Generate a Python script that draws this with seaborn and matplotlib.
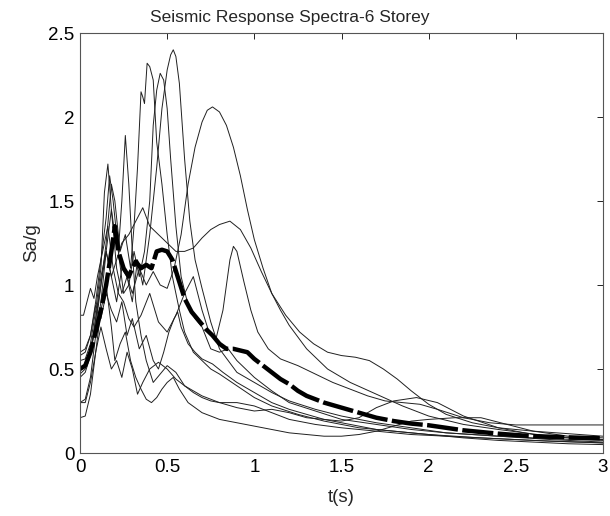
import numpy as np
import pandas as pd
import matplotlib
matplotlib.use("Agg")
import matplotlib.pyplot as plt
import seaborn as sns

# ---------------- data ----------------
t1 = [0, 0.03, 0.06, 0.09, 0.12, 0.15, 0.18, 0.21, 0.24, 0.27, 0.3, 0.33, 0.36, 0.4, 0.44, 0.47, 0.5, 0.52, 0.535, 0.55, 0.57, 0.6, 0.63, 0.66, 0.7, 0.75, 0.8, 0.85, 0.9, 1.0, 1.1, 1.2, 1.35, 1.5, 1.7, 1.9, 2.1, 2.4, 2.7, 3.0]
s1 = [0.5, 0.52, 0.6, 0.75, 1.0, 1.2, 1.45, 1.1, 0.95, 1.05, 0.9, 1.15, 1.0, 1.3, 1.7, 2.05, 2.28, 2.37, 2.4, 2.36, 2.2, 1.75, 1.38, 1.15, 0.98, 0.78, 0.62, 0.55, 0.48, 0.42, 0.36, 0.31, 0.26, 0.22, 0.18, 0.15, 0.12, 0.1, 0.08, 0.065]

t2 = [0, 0.03, 0.06, 0.09, 0.12, 0.15, 0.18, 0.2, 0.23, 0.26, 0.29, 0.31, 0.33, 0.35, 0.36, 0.37, 0.385, 0.4, 0.42, 0.44, 0.47, 0.5, 0.53, 0.57, 0.6, 0.65, 0.7, 0.75, 0.8, 0.9, 1.0, 1.1, 1.25, 1.4, 1.6, 1.8, 2.0, 2.3, 2.6, 3.0]
s2 = [0.45, 0.48, 0.58, 0.8, 1.0, 1.25, 1.6, 1.5, 1.2, 1.3, 1.1, 1.35, 1.7, 2.15, 2.12, 2.08, 2.32, 2.3, 2.22, 1.85, 1.6, 1.3, 1.05, 0.85, 0.72, 0.6, 0.55, 0.5, 0.47, 0.4, 0.33, 0.28, 0.23, 0.19, 0.15, 0.13, 0.11, 0.09, 0.075, 0.06]

t3 = [0, 0.03, 0.06, 0.09, 0.12, 0.15, 0.17, 0.19, 0.22, 0.25, 0.28, 0.31, 0.34, 0.37, 0.4, 0.42, 0.44, 0.46, 0.48, 0.5, 0.52, 0.55, 0.58, 0.62, 0.66, 0.7, 0.75, 0.8, 0.85, 0.9, 1.0, 1.1, 1.2, 1.35, 1.5, 1.7, 1.9, 2.1, 2.4, 2.7, 3.0]
s3 = [0.6, 0.62, 0.7, 0.9, 1.15, 1.4, 1.65, 1.5, 1.2, 0.95, 1.0, 1.2, 1.05, 1.2, 1.5, 1.95, 2.16, 2.26, 2.22, 2.05, 1.75, 1.35, 1.05, 0.88, 0.8, 0.75, 0.62, 0.6, 0.62, 0.55, 0.45, 0.37, 0.3, 0.25, 0.2, 0.17, 0.14, 0.12, 0.1, 0.085, 0.075]

t4 = [0, 0.03, 0.06, 0.09, 0.12, 0.15, 0.18, 0.21, 0.24, 0.27, 0.3, 0.34, 0.38, 0.42, 0.46, 0.5, 0.54, 0.58, 0.62, 0.66, 0.7, 0.73, 0.76, 0.8, 0.84, 0.88, 0.92, 0.96, 1.0, 1.05, 1.1, 1.15, 1.2, 1.3, 1.42, 1.55, 1.7, 1.85, 2.0, 2.2, 2.4, 2.7, 3.0]
s4 = [0.3, 0.32, 0.45, 0.7, 0.9, 1.2, 1.05, 0.9, 1.1, 1.05, 0.95, 1.1, 1.0, 1.08, 1.0, 0.98, 1.1, 1.3, 1.6, 1.82, 1.97, 2.04, 2.06, 2.03, 1.95, 1.82, 1.65, 1.45, 1.27, 1.1, 0.95, 0.85, 0.76, 0.62, 0.5, 0.42, 0.35, 0.28, 0.22, 0.17, 0.14, 0.1, 0.08]

t5 = [0, 0.03, 0.06, 0.09, 0.12, 0.14, 0.16, 0.18, 0.2, 0.22, 0.24, 0.26, 0.28, 0.3, 0.32, 0.35, 0.38, 0.42, 0.46, 0.5, 0.55, 0.6, 0.65, 0.7, 0.75, 0.8, 0.9, 1.0, 1.1, 1.2, 1.35, 1.5, 1.7, 1.9, 2.1, 2.4, 2.7, 3.0]
s5 = [0.55, 0.56, 0.65, 0.85, 1.1, 1.55, 1.72, 1.45, 1.3, 1.2, 1.5, 1.89, 1.6, 1.2, 0.9, 0.7, 0.55, 0.42, 0.47, 0.52, 0.48, 0.4, 0.36, 0.33, 0.31, 0.3, 0.3, 0.28, 0.24, 0.2, 0.17, 0.15, 0.13, 0.11, 0.1, 0.085, 0.07, 0.06]

t6 = [0, 0.03, 0.06, 0.09, 0.12, 0.15, 0.18, 0.21, 0.24, 0.28, 0.32, 0.36, 0.4, 0.45, 0.5, 0.55, 0.6, 0.65, 0.7, 0.75, 0.8, 0.86, 0.92, 0.98, 1.04, 1.1, 1.18, 1.26, 1.34, 1.42, 1.5, 1.58, 1.66, 1.74, 1.82, 1.9, 2.0, 2.1, 2.25, 2.4, 2.6, 2.8, 3.0]
s6 = [0.47, 0.5, 0.6, 0.8, 1.05, 1.2, 1.05, 1.15, 1.25, 1.3, 1.38, 1.46, 1.35, 1.3, 1.25, 1.2, 1.2, 1.22, 1.28, 1.33, 1.36, 1.38, 1.33, 1.22, 1.08, 0.95, 0.82, 0.72, 0.65, 0.6, 0.58, 0.57, 0.55, 0.5, 0.44, 0.37, 0.29, 0.23, 0.18, 0.15, 0.13, 0.115, 0.1]

t7 = [0, 0.02, 0.04, 0.06, 0.08, 0.1, 0.13, 0.16, 0.19, 0.22, 0.25, 0.28, 0.31, 0.35, 0.4, 0.45, 0.5, 0.55, 0.6, 0.65, 0.7, 0.74, 0.78, 0.82, 0.86, 0.88, 0.9, 0.94, 0.98, 1.02, 1.08, 1.15, 1.25, 1.35, 1.45, 1.55, 1.65, 1.75, 1.85, 1.95, 2.05, 2.2, 2.35, 2.5, 2.7, 2.85, 3.0]
s7 = [0.82, 0.82, 0.9, 0.98, 0.92, 1.05, 1.2, 1.35, 1.1, 0.95, 0.9, 0.8, 0.75, 0.82, 0.95, 0.78, 0.72, 0.82, 0.95, 1.05, 0.85, 0.72, 0.68, 0.85, 1.15, 1.23, 1.2, 1.02, 0.85, 0.72, 0.62, 0.56, 0.52, 0.47, 0.42, 0.38, 0.34, 0.31, 0.3, 0.29, 0.26, 0.21, 0.18, 0.167, 0.167, 0.167, 0.167]

t8 = [0, 0.03, 0.06, 0.09, 0.12, 0.15, 0.18, 0.21, 0.24, 0.27, 0.3, 0.33, 0.36, 0.4, 0.45, 0.5, 0.55, 0.6, 0.7, 0.8, 0.9, 1.0, 1.1, 1.2, 1.3, 1.4, 1.5, 1.6, 1.7, 1.8, 1.93, 2.05, 2.2, 2.4, 2.6, 2.8, 3.0]
s8 = [0.3, 0.3, 0.42, 0.6, 0.75, 0.62, 0.5, 0.55, 0.45, 0.6, 0.5, 0.35, 0.42, 0.5, 0.54, 0.5, 0.44, 0.4, 0.34, 0.3, 0.27, 0.25, 0.26, 0.24, 0.21, 0.2, 0.19, 0.21, 0.27, 0.31, 0.33, 0.3, 0.22, 0.15, 0.11, 0.09, 0.08]

t9 = [0, 0.03, 0.06, 0.09, 0.12, 0.15, 0.18, 0.2, 0.23, 0.26, 0.29, 0.32, 0.35, 0.38, 0.41, 0.44, 0.47, 0.5, 0.535, 0.57, 0.62, 0.7, 0.8, 0.9, 1.0, 1.1, 1.2, 1.3, 1.4, 1.5, 1.6, 1.7, 1.8, 1.9, 2.0, 2.15, 2.3, 2.45, 2.6, 2.8, 3.0]
s9 = [0.21, 0.22, 0.35, 0.6, 0.85, 1.0, 0.75, 0.55, 0.65, 0.72, 0.55, 0.45, 0.38, 0.32, 0.3, 0.33, 0.38, 0.42, 0.45, 0.38, 0.3, 0.24, 0.2, 0.18, 0.16, 0.14, 0.12, 0.11, 0.1, 0.1, 0.11, 0.13, 0.16, 0.19, 0.2, 0.21, 0.21, 0.17, 0.13, 0.1, 0.09]

t10 = [0, 0.03, 0.06, 0.09, 0.12, 0.15, 0.18, 0.21, 0.24, 0.27, 0.3, 0.34, 0.38, 0.42, 0.45, 0.48, 0.51, 0.54, 0.56, 0.58, 0.62, 0.66, 0.7, 0.76, 0.82, 0.9, 1.0, 1.1, 1.2, 1.3, 1.4, 1.5, 1.6, 1.7, 1.8, 1.9, 2.0, 2.2, 2.4, 2.6, 2.8, 3.0]
s10 = [0.58, 0.6, 0.7, 0.88, 0.8, 0.95, 0.85, 0.78, 0.9, 0.7, 0.8, 0.62, 0.7, 0.55, 0.5, 0.6, 0.72, 0.8, 0.84, 0.75, 0.65, 0.6, 0.56, 0.53, 0.48, 0.42, 0.36, 0.3, 0.26, 0.23, 0.2, 0.18, 0.16, 0.14, 0.13, 0.12, 0.11, 0.09, 0.075, 0.065, 0.055, 0.05]

t_mean = [0, 0.03, 0.06, 0.09, 0.12, 0.15, 0.18, 0.2, 0.22, 0.25, 0.28, 0.3, 0.32, 0.35, 0.38, 0.41, 0.44, 0.47, 0.5, 0.53, 0.56, 0.6, 0.64, 0.68, 0.72, 0.76, 0.8, 0.84, 0.88, 0.92, 0.96, 1.0, 1.05, 1.1, 1.15, 1.2, 1.25, 1.3, 1.4, 1.5, 1.6, 1.7, 1.8, 1.9, 2.0, 2.1, 2.2, 2.3, 2.4, 2.5, 2.6, 2.7, 2.8, 2.9, 3.0]
s_mean = [0.5, 0.52, 0.6, 0.72, 0.85, 1.0, 1.2, 1.35, 1.2, 1.1, 1.05, 1.1, 1.14, 1.1, 1.12, 1.1, 1.2, 1.21, 1.2, 1.15, 1.05, 0.92, 0.84, 0.79, 0.74, 0.7, 0.65, 0.62, 0.62, 0.61, 0.6, 0.56, 0.52, 0.48, 0.44, 0.41, 0.37, 0.34, 0.3, 0.27, 0.24, 0.21, 0.19, 0.175, 0.165, 0.15, 0.135, 0.125, 0.115, 0.107, 0.1, 0.097, 0.093, 0.09, 0.088]

records = [(t1, s1), (t2, s2), (t3, s3), (t4, s4), (t5, s5), (t6, s6), (t7, s7), (t8, s8), (t9, s9), (t10, s10)]

x_ticks = [0, 0.5, 1, 1.5, 2, 2.5, 3]
x_tick_labels = ["0", "0.5", "1", "1.5", "2", "2.5", "3"]
y_ticks = [0, 0.5, 1, 1.5, 2, 2.5]
y_tick_labels = ["0", "0.5", "1", "1.5", "2", "2.5"]

title = "Seismic Response Spectra-6 Storey"
xlabel = "t(s)"
ylabel = "Sa/g"

# ---------------- build tables ----------------
rows = []
for i, (tt, ss) in enumerate(records):
    for a, b in zip(tt, ss):
        rows.append({"t": a, "Sa": b, "record": f"R{i+1}"})
df = pd.DataFrame(rows)
df_mean = pd.DataFrame({"t": t_mean, "Sa": s_mean})

# ---------------- style ----------------
sns.set_style("white")
plt.rcParams["font.family"] = ["Liberation Sans", "DejaVu Sans"]

fig = plt.figure(figsize=(6.10, 5.16), dpi=100)
ax = fig.add_axes([80 / 610, 1 - 453 / 516, 523 / 610, 420 / 516])

sns.lineplot(data=df, x="t", y="Sa", units="record", estimator=None,
             color="#202020", linewidth=0.7, ax=ax, legend=False, sort=False)
sns.lineplot(data=df_mean, x="t", y="Sa", color="black", linewidth=3.2,
             ax=ax, legend=False, sort=False)
ax.lines[-1].set_dashes([7, 1.0])
ax.lines[-1].set_dash_capstyle("butt")

ax.set_xlim(0, 3)
ax.set_ylim(0, 2.5)
ax.set_xticks(x_ticks)
ax.set_xticklabels(x_tick_labels)
ax.set_yticks(y_ticks)
ax.set_yticklabels(y_tick_labels)
ax.tick_params(direction="in", top=True, right=True, length=4, width=0.6,
               labelsize=13.5, colors="black", pad=4)
for sp in ax.spines.values():
    sp.set_visible(True)
    sp.set_color("#555555")
    sp.set_linewidth(0.8)

ax.set_xlabel(xlabel, fontsize=13.5, labelpad=10)
ax.set_ylabel(ylabel, fontsize=13.5, labelpad=6)
fig.text(290 / 610, 1 - 17 / 516, title, fontsize=12.5, ha="center", va="center")

fig.savefig("out.png", dpi=100)
